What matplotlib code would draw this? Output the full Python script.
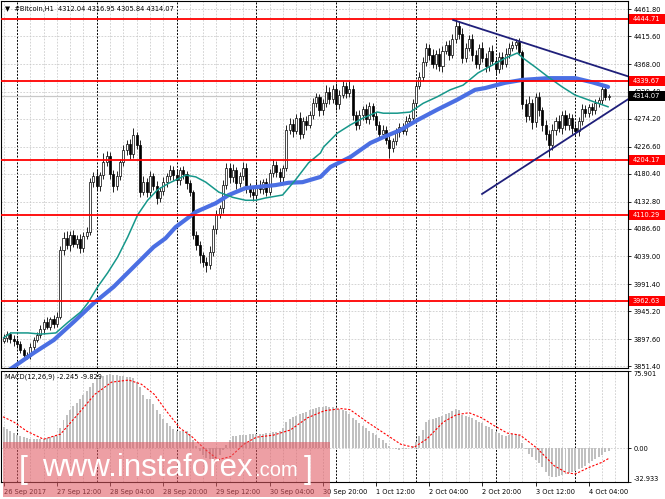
import matplotlib
matplotlib.use("Agg")
import matplotlib.pyplot as plt
from matplotlib.patches import Rectangle
import matplotlib.transforms as mtransforms
import numpy as np

# ---------------- data ----------------
# hours since 27 Sep 2017 00:00 ; first bar = 26 Sep 20:00 (h = -4)
first_hour = -4
closes = [
    3900, 3906, 3897, 3894,
    3889, 3878, 3871, 3869,
    3884, 3896, 3904, 3914,
    3926, 3919, 3931, 3924,
    3936, 4050,
    4071, 4058, 4076, 4061, 4069, 4054,
    4074, 4081, 4166,
    4176, 4159, 4178,
    4201, 4211, 4180,
    4159, 4176, 4200,
    4221, 4231, 4214, 4246,
    4230, 4150,
    4166, 4149, 4176, 4160, 4139, 4151,
    4166, 4176, 4186, 4179,
    4169, 4186, 4180, 4164,
    4149, 4075,
    4059, 4041, 4029, 4024, 4046,
    4086, 4111, 4121,
    4161, 4191, 4174,
    4186, 4164, 4176, 4191, 4159,
    4149, 4144, 4161, 4154, 4166, 4150,
    4181, 4196, 4184, 4174,
    4190, 4256,
    4266, 4254, 4276, 4249, 4271, 4264, 4281,
    4301, 4311, 4289,
    4301, 4321, 4309, 4326, 4299, 4316, 4331, 4319, 4326,
    4281, 4264,
    4281, 4291, 4274, 4296, 4279,
    4264, 4249, 4256,
    4239, 4224, 4236,
    4251, 4261, 4254, 4271, 4276,
    4301, 4331, 4346,
    4371, 4396, 4384,
    4369, 4386, 4364, 4391, 4401,
    4384, 4411, 4434,
    4419, 4379, 4396,
    4411, 4384, 4369, 4396, 4379,
    4364, 4391, 4374, 4359,
    4381, 4369, 4386, 4396,
    4401, 4406, 4389,
    4299,
    4279, 4301, 4269, 4311, 4289, 4264,
    4249, 4229, 4256,
    4271, 4259, 4281, 4264, 4276, 4259,
    4254, 4271, 4291, 4284,
    4294, 4289, 4301, 4306,
    4326, 4312.04, 4314.07,
]
first_open = 3895
wick_up = [
    6, 5, 4, 7,  5, 6, 4, 5,  7, 5, 6, 8,  6, 9, 5, 7,  8, 6,
    9, 12, 6, 8, 7, 9,  6, 8, 7,  8, 10, 6,  15, 8, 6,  7, 9, 6,
    8, 7, 9, 12,  6, 8,  10, 7, 9, 6, 8, 7,  8, 6, 9, 7,  10, 6, 7, 5,
    6, 4,  8, 7, 6, 9, 10,  7, 8, 6,  9, 8, 7,  11, 6, 8, 9, 7,
    6, 8, 7, 9, 6, 7,  8, 9, 7, 6,  6, 7,  9, 8, 7, 10, 6, 8, 7,
    9, 8, 6,  7, 12, 8, 6, 9, 7, 8, 6, 15,  6, 7,  8, 6, 9, 7, 6,
    7, 6, 8,  6, 7, 5,  8, 6, 7, 9, 6,  7, 6, 8,  9, 8, 7,
    10, 6, 9, 8, 7,  8, 9, 12,  7, 10, 8,  7, 9, 8, 6, 10,
    8, 7, 9, 6,  8, 7, 9, 8,  6, 5, 7,  4,
    9, 12, 8, 7, 10, 6,  8, 7, 9,  7, 10, 6, 9, 8, 7,
    9, 6, 8, 7,  6, 8, 7, 6,  5, 7, 2.88,
]
wick_dn = [
    5, 7, 6, 8,  6, 5, 7, 6,  5, 6, 4, 5,  7, 5, 6, 8,  6, 5,
    8, 7, 9, 6, 8, 10,  7, 6, 5,  9, 7, 8,  6, 8, 9,  10, 7, 6,
    7, 9, 8, 6,  7, 9,  6, 9, 7, 8, 10, 7,  7, 8, 6, 9,  8, 7, 9, 10,
    7, 6,  9, 14, 8, 12, 7,  6, 8, 7,  7, 6, 9,  8, 10, 7, 6, 12,
    8, 10, 6, 7, 9, 8,  6, 7, 9, 8,  7, 5,  8, 10, 6, 9, 7, 8, 6,
    7, 6, 9,  8, 6, 9, 7, 10, 8, 6, 9, 7,  8, 9,  7, 8, 6, 9, 7,
    8, 9, 7,  8, 17, 6,  7, 8, 6, 7, 8,  6, 7, 5,  7, 6, 9,
    8, 10, 7, 9, 6,  9, 6, 7,  8, 9, 7,  6, 10, 8, 9, 7,
    9, 8, 7, 10,  7, 9, 6, 8,  6, 7, 6,  8,
    10, 7, 12, 8, 9, 11,  10, 20, 8,  9, 7, 10, 8, 9, 11,
    8, 9, 7, 6,  7, 8, 6, 7,  6, 5, 6.2,
]
macd_hist = [
    21, 19, 17, 15,  13, 12, 11, 10,  9, 9, 9, 9,  9, 10, 11, 12,
    12, 20, 28, 33,  38, 42, 45, 48,  52, 56, 60, 64,  68, 70, 71, 72,
    73, 72, 72, 71,  71, 70, 70, 69,  65, 60, 52, 48,  48, 44, 38, 34,
    29, 25, 22, 19,  17, 17, 17, 17,  14, 8, 2, -3,  -6, -9, -10, -10,
    -9, -6, -2, 3,  8, 12, 12, 13,  13, 13, 14, 14,  14, 14, 14, 15,
    15, 16, 16, 17,  20, 26, 29, 31,  32, 34, 35, 36,  38, 39, 40, 41,
    41, 42, 41, 41,  40, 39, 38, 37,  34, 30, 28, 25,  22, 20, 17, 15,
    13, 10, 8, 5,  2, 0, -1, -2,  -1, -1, 0, 2,  6, 12, 18, 26,
    28, 29, 30, 31,  32, 34, 35, 37,  39, 38, 33, 32,  31, 30, 28, 26,
    25, 22, 21, 19,  16, 15, 13, 12,  13, 14, 14, 13,  5, -1, -5, -8,
    -11, -14, -18, -23,  -27, -28, -28, -27,  -26, -25, -24, -23,
    -22, -20, -19, -17,  -14, -12, -10, -8,  -6, -4, -2.245,
]
signal_h = [-4.2, -1, 2.9, 8, 13.1, 18.2, 23.4, 28.5, 33.6, 37.4, 41.3, 45.1, 49, 52.8,
            56.6, 60.5, 64.3, 68.2, 72, 77.1, 82.2, 87.4, 92.5, 97.6, 100.2, 105.3, 110.4,
            115.5, 119.4, 123.2, 128.3, 132.2, 136, 139.8, 143.7, 147.5, 151.4, 156.5,
            161.6, 165.4, 168, 171.8, 175.7, 178]
signal_v = [31, 26, 17, 9, 14, 33, 53, 65, 67, 63, 53, 36, 20, 11,
            -1, -11, -8, 4, 11, 13, 18, 30, 37, 39, 38, 26, 15,
            4, 1, 9, 26, 33, 35, 30, 22, 15, 13, 0,
            -17, -24, -25, -19, -14, -9.829]
ma_fast_h = [-4, -1.8, 3.3, 7.2, 11.7, 15.3, 19.2, 21.3, 24.3, 27.3, 30.3, 33.3, 36.3, 39.3,
             42.3, 45.6, 50.8, 53.8, 56.8, 60.7, 64.9, 68.8, 71.8, 74.8, 79.9, 83.8, 87.7,
             91.3, 92.2, 96.4, 100.3, 104.2, 108.4, 110.2, 114.4, 118.3, 122.2, 126.4, 130.3,
             134.2, 138.7, 142.9, 146.8, 150.5, 152.3, 155.9, 159.8, 164, 167.9, 171.8, 174.8, 177.8]
ma_fast_v = [3900, 3908, 3908, 3906, 3908, 3926, 3944, 3959, 3987, 4011, 4038, 4072, 4110, 4135,
             4153, 4164, 4178, 4175, 4166, 4149, 4140, 4135, 4135, 4139, 4144, 4170, 4199,
             4216, 4226, 4250, 4264, 4276, 4286, 4284, 4284, 4286, 4301, 4312, 4324,
             4332, 4353, 4366, 4378, 4387, 4378, 4363, 4346, 4329, 4315, 4307, 4301, 4295]
ma_slow_h = [-4.8, 5.1, 11.1, 17.1, 23.1, 29.1, 35.1, 41.1, 44.7, 47.7, 53.8, 59.8, 63.7, 68.8,
             72.7, 77.8, 81.7, 85.9, 91.3, 94.3, 100.3, 106.3, 110.2, 115.3, 120.4, 126.4,
             132.4, 137.8, 140.8, 146.8, 152, 159.8, 167.9, 173, 177.8]
ma_slow_v = [3835, 3874, 3896, 3927, 3959, 3987, 4021, 4055, 4070, 4089, 4115, 4130, 4144, 4156,
             4158, 4161, 4165, 4166, 4175, 4192, 4209, 4233, 4243, 4255, 4272, 4290,
             4307, 4324, 4327, 4336, 4341, 4344, 4344, 4337, 4329]
levels = [4444.71, 4339.67, 4204.17, 4110.29, 3962.63]
trend_upper_h = [131.2, 184.4]
trend_upper_v = [4443.5, 4346.0]
trend_lower_h = [139.9, 184.4]
trend_lower_v = [4145.8, 4310.0]
price_ticks = [4461.80, 4415.60, 4368.00, 4320.40, 4274.20, 4226.60, 4180.40,
               4132.80, 4086.60, 4039.00, 3991.40, 3945.20, 3897.60, 3851.40]
date_ticks = [-4, 12, 28, 44, 60, 76, 92, 108, 124, 140, 156, 172]
date_labels = ["26 Sep 2017", "27 Sep 12:00", "28 Sep 04:00", "28 Sep 20:00",
               "29 Sep 12:00", "30 Sep 04:00", "30 Sep 20:00", "1 Oct 12:00",
               "2 Oct 04:00", "2 Oct 20:00", "3 Oct 12:00", "4 Oct 04:00"]
last_price = 4314.07
header = "\u25BC  #Bitcoin,H1  4312.04 4316.95 4305.84 4314.07"
macd_title = "MACD(12,26,9) -2.245 -9.829"

# ---------------- figure ----------------
W, H = 665, 499
fig = plt.figure(figsize=(W / 100, H / 100), dpi=100)
fig.patch.set_facecolor("white")
FS = 4.8
plt.rcParams["font.family"] = ["DejaVu Sans"]

def fr(x0, y0, x1, y1):
    return [x0 / W, 1 - y1 / H, (x1 - x0) / W, (y1 - y0) / H]

ax = fig.add_axes(fr(1, 1, 628, 368))
ax2 = fig.add_axes(fr(1, 371, 628, 482))

hours = np.arange(first_hour, first_hour + len(closes))
closes_a = np.array(closes, float)
opens_a = np.array([first_open] + closes[:-1], float)
highs_a = np.maximum(opens_a, closes_a) + np.array(wick_up, float)
lows_a = np.minimum(opens_a, closes_a) - np.array(wick_dn, float)

XL = (-4.8, 183.8)
for a in (ax, ax2):
    a.set_xlim(*XL)
    a.set_facecolor("white")
    for s in a.spines.values():
        s.set_color("black")
        s.set_linewidth(0.8)
    # vertical grid / period separators
    for h in range(-4, 184, 4):
        if h % 24 == 0:
            a.axvline(h, color="black", lw=0.7, ls=(0, (2, 1.5)), zorder=1)
        else:
            a.axvline(h, color="#c4c4c4", lw=0.5, ls=(0, (2.5, 2)), zorder=1)

# main panel
ax.set_ylim(3848.0, 4476.0)
for p in price_ticks:
    ax.axhline(p, color="#c4c4c4", lw=0.5, ls=(0, (2.5, 2)), zorder=1)
ax.axhline(last_price, color="#c8c8c8", lw=0.9, zorder=1.5)

bw = 0.62
up = closes_a >= opens_a
ax.vlines(hours, lows_a, highs_a, color="black", lw=0.6, zorder=3)
bottoms = np.minimum(opens_a, closes_a)
heights = np.maximum(np.abs(closes_a - opens_a), 0.8)
ax.bar(hours[up], heights[up], bottom=bottoms[up], width=bw, color="white",
       edgecolor="black", linewidth=0.5, zorder=3.1)
ax.bar(hours[~up], heights[~up], bottom=bottoms[~up], width=bw, color="black",
       edgecolor="black", linewidth=0.5, zorder=3.1)

ax.plot(ma_slow_h, ma_slow_v, color="#4b6fe3", lw=3.0, solid_capstyle="round", zorder=4)
ax.plot(ma_fast_h, ma_fast_v, color="#16978a", lw=1.1, zorder=4.1)
for lv in levels:
    ax.axhline(lv, color="#ff0000", lw=1.3, zorder=5)
ax.plot(trend_upper_h, trend_upper_v, color="#1f1f7a", lw=1.3, zorder=5)
ax.plot(trend_lower_h, trend_lower_v, color="#1f1f7a", lw=1.3, zorder=5)

ax.yaxis.tick_right()
ax.set_yticks(price_ticks)
ax.set_yticklabels([f"{p:.2f}" for p in price_ticks])
ax.tick_params(axis="y", direction="out", length=2.5, width=0.6, pad=1.5,
               labelsize=FS, colors="black")
ax.set_xticks([])

trans = mtransforms.blended_transform_factory(ax.transAxes, ax.transData)
box_w = 37 / 627
box_h = 10 * 1.711
def price_box(val, fc):
    r = Rectangle((1.0015, val - box_h / 2), box_w, box_h, transform=trans,
                  facecolor=fc, edgecolor="none", clip_on=False, zorder=10)
    ax.add_patch(r)
    ax.text(1.0015 + 4 / 627, val, f"{val:.2f}", transform=trans, color="white",
            fontsize=FS, va="center", ha="left", clip_on=False, zorder=11)
for lv in levels:
    price_box(lv, "#ff0000")
price_box(last_price, "black")

ax.text(4 / 627, 1 - 8 / 367, header, transform=ax.transAxes, fontsize=FS,
        va="center", ha="left", color="black", zorder=12)

# MACD panel
ax2.set_ylim(-32.933, 75.901)
ax2.axhline(0, color="#c4c4c4", lw=0.5, ls=(0, (2.5, 2)), zorder=1)
ax2.bar(hours, macd_hist, width=0.6, color="#c0c0c0", edgecolor="none", zorder=2)
ax2.plot(signal_h, signal_v, color="#ff0000", lw=0.8, ls=(0, (2, 1.5)), zorder=3)
ax2.yaxis.tick_right()
ax2.set_yticks([75.901, 0.0, -32.933])
ax2.set_yticklabels(["75.901", "0.00", "-32.933"])
ax2.tick_params(axis="y", direction="out", length=2.5, width=0.6, pad=1.5,
                labelsize=FS, colors="black")
yl = ax2.get_yticklabels()
yl[0].set_va("top")
yl[2].set_va("bottom")
ax2.set_xticks(date_ticks)
ax2.set_xticklabels(date_labels)
for t in ax2.get_xticklabels():
    t.set_ha("left")
ax2.tick_params(axis="x", direction="out", length=3, width=0.6, pad=2,
                labelsize=FS, colors="black")
ax2.text(4 / 627, 1 - 6 / 111, macd_title, transform=ax2.transAxes, fontsize=FS,
         va="center", ha="left", color="black", zorder=12)

# watermark
wm = Rectangle((3 / W, 1 - 497 / H), 327 / W, 55 / H, transform=fig.transFigure,
               facecolor="#e05a63", edgecolor="none", alpha=0.58, zorder=20)
fig.patches.append(wm)
wfam = ["Liberation Sans", "DejaVu Sans"]
fig.text(19 / W, 1 - 470 / H, "[", fontsize=23, color="white", family=wfam,
         va="center", ha="left", zorder=21)
fig.text(42 / W, 1 - 468 / H, "www.instaforex", fontsize=22.5, color="white",
         family=wfam, va="center", ha="left", zorder=21)
fig.text(254 / W, 1 - 471 / H, ".com", fontsize=14.5, color="white",
         family=wfam, va="center", ha="left", zorder=21)
fig.text(304 / W, 1 - 470 / H, "]", fontsize=23, color="white", family=wfam,
         va="center", ha="left", zorder=21)

fig.savefig("out.png", dpi=100)
